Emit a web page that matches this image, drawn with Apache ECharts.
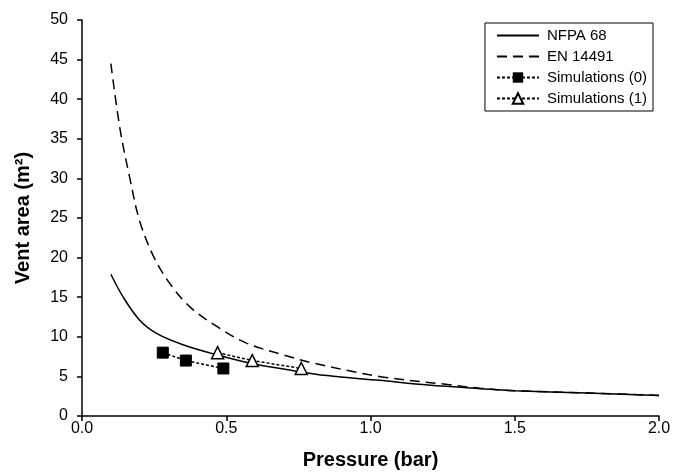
<!DOCTYPE html>
<html>
<head>
<meta charset="utf-8">
<script src="https://cdn.jsdelivr.net/npm/echarts@6/dist/echarts.min.js"></script>
<style>html,body{margin:0;padding:0;background:#fff}#c{width:676px;height:475px}</style>
</head>
<body>
<div id="c"></div>
<script>
const xTicks = [0.0, 0.5, 1.0, 1.5, 2.0];
const yTicks = [0, 5, 10, 15, 20, 25, 30, 35, 40, 45, 50];

const nfpaP = [0.10, 0.143, 0.20, 0.26, 0.35, 0.47, 0.58, 0.72, 0.85, 1.03, 1.20, 1.38, 1.50, 1.75, 2.00];
const nfpaA = [17.9, 15.0, 12.1, 10.4, 9.0, 7.7, 6.7, 5.8, 5.1, 4.5, 3.9, 3.45, 3.2, 2.9, 2.6];

const enP = [0.10, 0.132, 0.166, 0.20, 0.25, 0.305, 0.375, 0.47, 0.57, 0.70, 0.80, 1.03, 1.26, 1.38, 1.50, 1.75, 2.00];
const enA = [44.5, 36.2, 30.0, 24.6, 20.0, 16.7, 13.75, 11.25, 9.2, 7.7, 6.7, 5.0, 4.0, 3.5, 3.2, 2.9, 2.6];

const sim0P = [0.28, 0.36, 0.49];
const sim0A = [8, 7, 6];
const sim1P = [0.47, 0.59, 0.76];
const sim1A = [8, 7, 6];

const pairs = (xs, ys) => xs.map((x, i) => [x, ys[i]]);
const FONT = 'Liberation Sans, Arial, sans-serif';

const chart = echarts.init(document.getElementById('c'), null, {renderer: 'canvas'});
chart.setOption({
  animation: false,
  backgroundColor: '#fff',
  grid: {left: 82, right: 17, top: 20, bottom: 55, containLabel: false},
  legend: {
    orient: 'vertical',
    right: 23, top: 23,
    padding: [5, 6, 5, 11],
    borderColor: '#000', borderWidth: 1,
    itemWidth: 42, itemHeight: 13, itemGap: 6,
    textStyle: {fontFamily: FONT, fontSize: 15, color: '#000', padding: [0, 0, 0, 3]},
    data: [
      {name: 'NFPA 68', itemStyle: {opacity: 0}},
      {name: 'EN 14491', itemStyle: {opacity: 0}},
      'Simulations (0)', 'Simulations (1)'
    ]
  },
  xAxis: {
    type: 'value', min: 0, max: 2, interval: 0.5,
    name: 'Pressure (bar)', nameLocation: 'middle', nameGap: 34,
    nameTextStyle: {fontFamily: FONT, fontSize: 20, fontWeight: 'bold', color: '#000'},
    axisLine: {show: true, lineStyle: {color: '#000', width: 1.5}},
    axisTick: {show: true, length: 5, lineStyle: {color: '#000', width: 1.5}},
    axisLabel: {fontFamily: FONT, fontSize: 16, color: '#000', margin: 5,
      formatter: v => xTicks.includes(v) ? v.toFixed(1) : ''},
    splitLine: {show: false}
  },
  yAxis: {
    type: 'value', min: 0, max: 50, interval: 5,
    name: 'Vent area (m²)', nameLocation: 'middle', nameGap: 49,
    nameTextStyle: {fontFamily: FONT, fontSize: 20, fontWeight: 'bold', color: '#000'},
    axisLine: {show: true, lineStyle: {color: '#000', width: 1.5}},
    axisTick: {show: true, length: 5, lineStyle: {color: '#000', width: 1.5}},
    axisLabel: {fontFamily: FONT, fontSize: 16, color: '#000', margin: 14,
      formatter: v => yTicks.includes(v) ? String(v) : ''},
    splitLine: {show: false}
  },
  series: [
    {
      name: 'NFPA 68', type: 'line', data: pairs(nfpaP, nfpaA),
      smooth: 0.35, showSymbol: false,
      lineStyle: {color: '#000', width: 1.5}, itemStyle: {color: '#000'}
    },
    {
      name: 'EN 14491', type: 'line', data: pairs(enP, enA),
      smooth: 0.35, showSymbol: false,
      lineStyle: {color: '#000', width: 1.5, type: [10, 6]}, itemStyle: {color: '#000'}
    },
    {
      name: 'Simulations (0)', type: 'line', data: pairs(sim0P, sim0A),
      symbol: 'rect', symbolSize: 11,
      lineStyle: {color: '#000', width: 1.5, type: [3, 2]},
      itemStyle: {color: '#000', borderColor: '#000'}
    },
    {
      name: 'Simulations (1)', type: 'line', data: pairs(sim1P, sim1A),
      symbol: 'triangle', symbolSize: 12,
      lineStyle: {color: '#000', width: 1.5, type: [3, 2]},
      itemStyle: {color: '#fff', borderColor: '#000', borderWidth: 1.5}
    }
  ]
});
</script>
</body>
</html>
